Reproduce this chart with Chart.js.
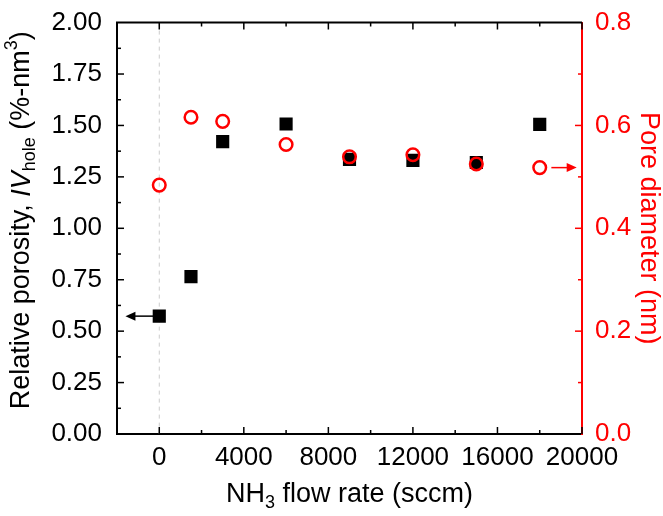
<!DOCTYPE html>
<html>
<head>
<meta charset="utf-8">
<script src="https://cdn.jsdelivr.net/npm/chart.js@4"></script>
<style>
  body { margin: 0; background: #fff; }
</style>
</head>
<body>
<canvas id="chart" width="663" height="516"></canvas>
<script>
// values
const flowRates = [0, 1500, 3000, 6000, 9000, 12000, 15000, 18000];
const porosity = [0.573, 0.765, 1.421, 1.507, 1.335, 1.33, 1.32, 1.505];
const poreDiameter = [0.484, 0.616, 0.608, 0.563, 0.539, 0.543, 0.525, 0.518];

const xTicks = [0, 4000, 8000, 12000, 16000, 20000];
const leftTicks = [0, 0.25, 0.5, 0.75, 1, 1.25, 1.5, 1.75, 2];
const rightTicks = [0, 0.2, 0.4, 0.6, 0.8];

// arrows telling which axis a series belongs to: [x from, x to, y]
const porosityArrow = [-100, -1600, 0.573];
const diameterArrow = [18550, 19750, 0.518];

const FONT = '"Liberation Sans", Arial, sans-serif';
const RED = '#ff0000';

function drawRuns(ctx, runs, x, y, angle, color) {
    ctx.save()
    ctx.translate(x, y)
    ctx.rotate(angle)
    ctx.fillStyle = color
    ctx.textBaseline = 'middle'
    ctx.textAlign = 'left'
    let total = 0
    for (let r of runs) {
        ctx.font = (r.italic ? 'italic ' : '') + (r.size || 27) + 'px ' + FONT
        r.w = ctx.measureText(r.t).width
        total += r.w
    }
    let cx = -total / 2
    for (let r of runs) {
        ctx.font = (r.italic ? 'italic ' : '') + (r.size || 27) + 'px ' + FONT
        ctx.fillText(r.t, cx, r.dy || 0)
        cx += r.w
    }
    ctx.restore()
}

function arrow(ctx, x1, x2, y, color) {
    let dir = x2 > x1 ? 1 : -1
    ctx.strokeStyle = color
    ctx.fillStyle = color
    ctx.lineWidth = 1.5
    ctx.beginPath()
    ctx.moveTo(x1, y)
    ctx.lineTo(x2 - dir * 8, y)
    ctx.stroke()
    ctx.beginPath()
    ctx.moveTo(x2, y)
    ctx.lineTo(x2 - dir * 10, y - 4.5)
    ctx.lineTo(x2 - dir * 10, y + 4.5)
    ctx.closePath()
    ctx.fill()
}

const framePlugin = {
    id: 'frame',
    beforeDatasetsDraw(chart) {
        let ctx = chart.ctx
        let a = chart.chartArea
        let px = chart.scales.x.getPixelForValue(0)
        ctx.save()
        ctx.strokeStyle = '#cccccc'
        ctx.lineWidth = 1
        ctx.setLineDash([4, 4])
        ctx.beginPath()
        ctx.moveTo(px, a.top)
        ctx.lineTo(px, a.bottom)
        ctx.stroke()
        ctx.restore()
    },
    afterDraw(chart) {
        let ctx = chart.ctx
        let a = chart.chartArea
        let x = chart.scales.x, y = chart.scales.y, y1 = chart.scales.y1
        ctx.save()

        // top frame line
        ctx.strokeStyle = '#000'
        ctx.lineWidth = 2
        ctx.beginPath()
        ctx.moveTo(a.left - 1, a.top)
        ctx.lineTo(a.right, a.top)
        ctx.stroke()

        // inward ticks, major and minor
        ctx.lineWidth = 1.5
        for (let v = 0; v <= 20000; v += 2000) {
            let p = x.getPixelForValue(v)
            let len = v % 4000 === 0 ? 7 : 4
            ctx.beginPath()
            ctx.moveTo(p, a.bottom); ctx.lineTo(p, a.bottom - len)
            ctx.moveTo(p, a.top); ctx.lineTo(p, a.top + len)
            ctx.stroke()
        }
        for (let i = 1; i < 16; i++) {
            let p = y.getPixelForValue(i * 0.125)
            let len = i % 2 === 0 ? 7 : 4
            ctx.beginPath()
            ctx.moveTo(a.left, p); ctx.lineTo(a.left + len, p)
            ctx.stroke()
        }
        ctx.strokeStyle = RED
        for (let i = 1; i < 8; i++) {
            let p = y1.getPixelForValue(i * 0.1)
            let len = i % 2 === 0 ? 7 : 4
            ctx.beginPath()
            ctx.moveTo(a.right, p); ctx.lineTo(a.right - len, p)
            ctx.stroke()
        }

        // arrows
        arrow(ctx, x.getPixelForValue(porosityArrow[0]), x.getPixelForValue(porosityArrow[1]),
            y.getPixelForValue(porosityArrow[2]), '#000')
        arrow(ctx, x.getPixelForValue(diameterArrow[0]), x.getPixelForValue(diameterArrow[1]),
            y1.getPixelForValue(diameterArrow[2]), RED)

        // axis titles with sub/superscripts
        drawRuns(ctx, [
            {t: 'NH'}, {t: '3', size: 18, dy: 8}, {t: ' flow rate (sccm)'}
        ], (a.left + a.right) / 2, 495, 0, '#000')
        drawRuns(ctx, [
            {t: 'Relative porosity, '}, {t: 'IV', italic: true},
            {t: 'hole', size: 18, dy: 8},
            {t: ' (%-nm'}, {t: '3', size: 18, dy: -10}, {t: ')'}
        ], 22, (a.top + a.bottom) / 2 - 8, -Math.PI / 2, '#000')
        drawRuns(ctx, [{t: 'Pore diameter (nm)'}], 648, (a.top + a.bottom) / 2, Math.PI / 2, RED)
        ctx.restore()
    }
}

const ctx = document.getElementById('chart')
new Chart(ctx, {
    type: 'scatter',
    data: {
        datasets: [
            {
                label: 'Pore diameter',
                data: flowRates.map((v, i) => ({x: v, y: poreDiameter[i]})),
                yAxisID: 'y1',
                pointStyle: 'circle',
                pointRadius: 6.3,
                pointHoverRadius: 6.3,
                borderWidth: 2.5,
                borderColor: RED,
                backgroundColor: 'rgba(0,0,0,0)',
                order: 1
            },
            {
                label: 'Relative porosity',
                data: flowRates.map((v, i) => ({x: v, y: porosity[i]})),
                yAxisID: 'y',
                pointStyle: 'rect',
                pointRadius: 9.3,
                pointHoverRadius: 9.3,
                borderWidth: 0,
                borderColor: '#000',
                backgroundColor: '#000',
                order: 2
            }
        ]
    },
    options: {
        responsive: false,
        animation: false,
        devicePixelRatio: 1,
        layout: { padding: { top: 14 } },
        plugins: { legend: { display: false }, tooltip: { enabled: false } },
        scales: {
            x: {
                type: 'linear',
                position: 'bottom',
                min: -2000,
                max: 20000,
                afterBuildTicks: s => { s.ticks = xTicks.map(v => ({value: v})) },
                afterFit: s => { s.height = 82 },
                grid: { display: false },
                border: { display: true, color: '#000', width: 2 },
                ticks: { color: '#000', padding: 0, font: { family: FONT, size: 26 }, maxRotation: 0,
                    autoSkip: false, callback: v => String(v) }
            },
            y: {
                type: 'linear',
                position: 'left',
                min: 0,
                max: 2,
                afterBuildTicks: s => { s.ticks = leftTicks.map(v => ({value: v})) },
                afterFit: s => { s.width = 117 },
                grid: { display: false },
                border: { display: true, color: '#000', width: 2 },
                ticks: { color: '#000', padding: 7, font: { family: FONT, size: 26 },
                    callback: v => v.toFixed(2) }
            },
            y1: {
                type: 'linear',
                position: 'right',
                min: 0,
                max: 0.8,
                afterBuildTicks: s => { s.ticks = rightTicks.map(v => ({value: v})) },
                afterFit: s => { s.width = 81 },
                grid: { display: false },
                border: { display: true, color: RED, width: 2 },
                ticks: { color: RED, padding: 5, font: { family: FONT, size: 26 },
                    callback: v => v.toFixed(1) }
            }
        }
    },
    plugins: [framePlugin]
})
</script>
</body>
</html>
